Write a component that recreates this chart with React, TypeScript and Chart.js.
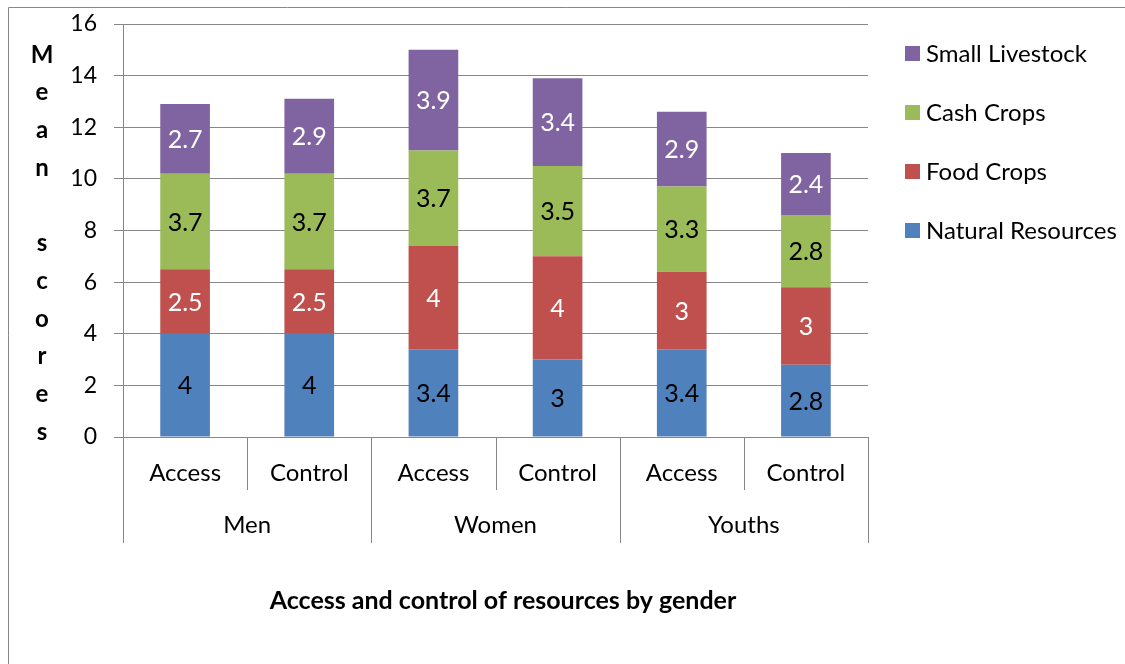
import React, { useEffect, useRef } from "react";
import { Chart, registerables } from "chart.js";

Chart.register(...registerables);

const categories = ["Access", "Control", "Access", "Control", "Access", "Control"];
const groups = ["Men", "Women", "Youths"];
const naturalResources = [4, 4, 3.4, 3, 3.4, 2.8];
const foodCrops = [2.5, 2.5, 4, 4, 3, 3];
const cashCrops = [3.7, 3.7, 3.7, 3.5, 3.3, 2.8];
const smallLivestock = [2.7, 2.9, 3.9, 3.4, 2.9, 2.4];
const seriesNames = ["Natural Resources", "Food Crops", "Cash Crops", "Small Livestock"];
const seriesColors = ["#4F81BD", "#C0504D", "#9BBB59", "#8064A2"];
const labelColors = ["#000000", "#FFFFFF", "#000000", "#FFFFFF"];
const yTicks = [0, 2, 4, 6, 8, 10, 12, 14, 16];
const axisTitle = "Mean scores";
const chartTitle = "Access and control of resources by gender";

const FONT = "Lato, 'Noto Sans', sans-serif";
const GRID = "#878787";

const extrasPlugin = {
  id: "extras",
  afterDraw(chart: any) {
    const ctx = chart.ctx;
    const area = chart.chartArea;
    const xs = chart.scales.x;
    ctx.save();
    // outer frame
    ctx.strokeStyle = GRID;
    ctx.lineWidth = 1;
    ctx.beginPath();
    ctx.moveTo(8.5, chart.height);
    ctx.lineTo(8.5, 7.5);
    ctx.lineTo(chart.width, 7.5);
    ctx.stroke();

    // data labels
    ctx.font = `25px ${FONT}`;
    ctx.textAlign = "center";
    ctx.textBaseline = "middle";
    chart.data.datasets.forEach((ds: any, di: number) => {
      const meta = chart.getDatasetMeta(di);
      meta.data.forEach((bar: any, i: number) => {
        const v = ds.data[i];
        const cy = (bar.y + bar.base) / 2;
        ctx.fillStyle = labelColors[di];
        ctx.fillText(String(v), bar.x, cy + 1);
      });
    });

    // category axis (two-level)
    const n = categories.length;
    const step = xs.getPixelForValue(1) - xs.getPixelForValue(0);
    const bottom = area.bottom;
    const row1 = bottom + 53;
    const row2 = bottom + 106;
    ctx.strokeStyle = GRID;
    for (let i = 0; i <= n; i++) {
      const x = Math.round(xs.getPixelForValue(0) - step / 2 + i * step) + 0.5;
      const isGroupEdge = i % 2 === 0;
      ctx.beginPath();
      ctx.moveTo(x, bottom);
      ctx.lineTo(x, isGroupEdge ? row2 : row1);
      ctx.stroke();
    }
    ctx.fillStyle = "#000";
    ctx.font = `24px ${FONT}`;
    categories.forEach((c, i) => {
      ctx.fillText(c, xs.getPixelForValue(i), bottom + 36);
    });
    groups.forEach((g, gi) => {
      const cx = (xs.getPixelForValue(gi * 2) + xs.getPixelForValue(gi * 2 + 1)) / 2;
      ctx.fillText(g, cx, bottom + 88);
    });

    // chart title
    ctx.font = `bold 25px ${FONT}`;
    ctx.fillText(chartTitle, 503, 601);

    // vertical axis title, stacked letters
    ctx.font = `bold 24px ${FONT}`;
    const letters = axisTitle.split("");
    const top = 55;
    const sp = 37.7;
    letters.forEach((ch, i) => {
      if (ch !== " ") ctx.fillText(ch, 42, top + i * sp);
    });

    // legend
    const lx = area.right + 37;
    ctx.textAlign = "left";
    ctx.font = `24px ${FONT}`;
    for (let k = 0; k < seriesNames.length; k++) {
      const di = seriesNames.length - 1 - k;
      const cy = 53 + k * 59;
      ctx.fillStyle = seriesColors[di];
      ctx.fillRect(lx, cy - 7, 15, 15);
      ctx.fillStyle = "#000";
      ctx.fillText(chart.data.datasets[di].label, lx + 21, cy + 1);
    }
    ctx.restore();
  },
};

export default function App() {
  const ref = useRef<HTMLCanvasElement>(null);
  useEffect(() => {
    if (!ref.current) return;
    const seriesData = [naturalResources, foodCrops, cashCrops, smallLivestock];
    const chart = new Chart(ref.current, {
      type: "bar",
      data: {
        labels: categories,
        datasets: seriesData.map((d, i) => ({
          label: seriesNames[i],
          data: d,
          backgroundColor: seriesColors[i],
          borderWidth: 0,
          categoryPercentage: 1,
          barPercentage: 0.4,
        })),
      },
      options: {
        animation: false,
        responsive: false,
        devicePixelRatio: 1,
        layout: { padding: { left: 63, right: 257, top: 24, bottom: 227 } },
        plugins: { legend: { display: false }, tooltip: { enabled: false } },
        scales: {
          x: {
            stacked: true,
            grid: { display: false },
            ticks: { display: false },
            border: { display: true, color: GRID },
            afterFit: (s: any) => {
              s.height = 0;
              s.paddingLeft = 0;
              s.paddingRight = 0;
            },
          },
          y: {
            stacked: true,
            min: 0,
            max: 16,
            afterBuildTicks: (s: any) => {
              s.ticks = yTicks.map((v) => ({ value: v }));
            },
            ticks: {
              color: "#000",
              padding: 17,
              font: { family: FONT, size: 23 },
            },
            grid: { color: GRID, tickLength: 9, drawTicks: true },
            border: { display: true, color: GRID },
            afterFit: (s: any) => {
              s.width = 60;
              s.paddingTop = 0;
              s.paddingBottom = 0;
            },
          },
        },
      },
      plugins: [extrasPlugin],
    });
    return () => chart.destroy();
  }, []);
  return (
    <div style={{ position: "absolute", left: 0, top: 0, width: 1125, height: 664, background: "#fff" }}>
      <canvas ref={ref} width={1125} height={664} />
    </div>
  );
}
